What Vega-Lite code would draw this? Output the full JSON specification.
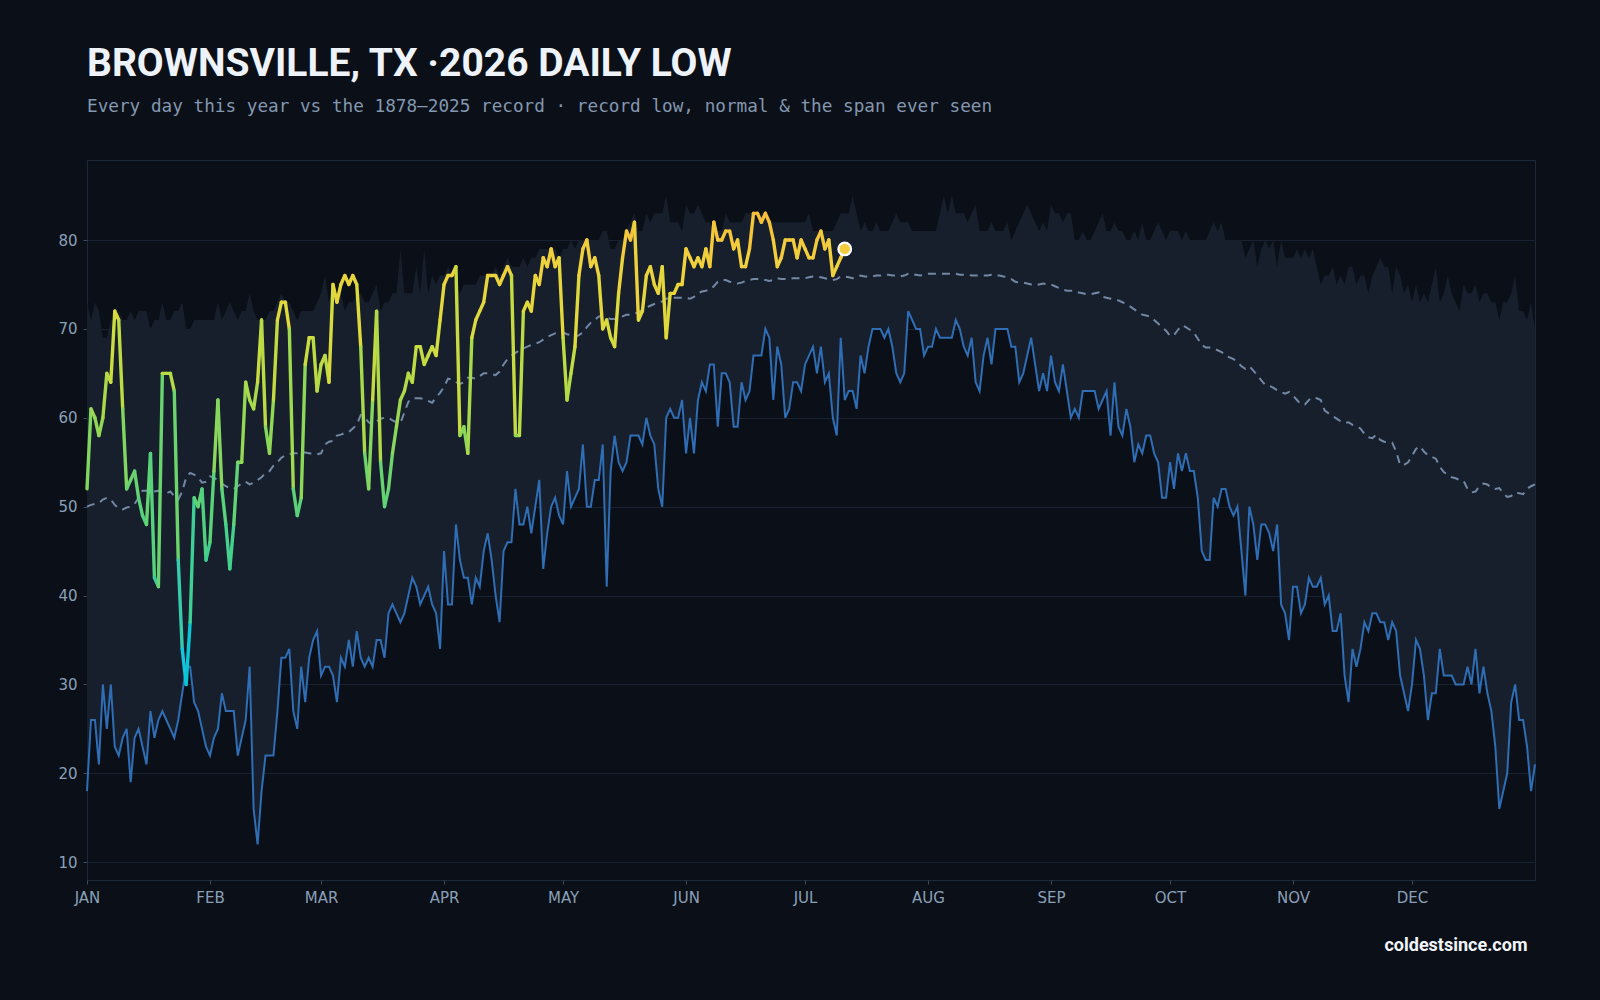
{
  "$schema": "https://vega.github.io/schema/vega-lite/v6.json",
  "width": 1448,
  "height": 720,
  "autosize": {"type": "none"},
  "padding": {"left": 87, "top": 160, "right": 65, "bottom": 120},
  "background": "#0b0f17",
  "title": {
    "text": "BROWNSVILLE, TX ·2026 DAILY LOW",
    "subtitle": "Every day this year vs the 1878–2025 record · record low, normal & the span ever seen",
    "anchor": "start",
    "frame": "group",
    "offset": 44,
    "font": "Roboto",
    "fontSize": 39,
    "fontWeight": 700,
    "color": "#eef3fa",
    "subtitleFont": "DejaVu Sans Mono",
    "subtitleFontSize": 17.7,
    "subtitleColor": "#8398b1",
    "subtitlePadding": 14
  },
  "config": {
    "view": {"stroke": "#1d2939", "strokeWidth": 1},
    "axis": {
      "domain": false,
      "labelFont": "DejaVu Sans",
      "labelFontSize": 15,
      "labelColor": "#8aa0b8",
      "tickColor": "#3b4b60",
      "tickSize": 4,
      "gridColor": "#182231",
      "gridWidth": 1
    }
  },
  "datasets": {
    "clim": [
      {"day":0,"lo":18,"hi":73,"n":50.0},{"day":1,"lo":26,"hi":71,"n":50.2},{"day":2,"lo":26,"hi":73,"n":50.3},{"day":3,"lo":21,"hi":72,"n":50.4},{"day":4,"lo":30,"hi":69,"n":50.8},{"day":5,"lo":25,"hi":69,"n":51.0},{"day":6,"lo":30,"hi":71,"n":50.8},{"day":7,"lo":23,"hi":71,"n":50.2},{"day":8,"lo":22,"hi":72,"n":49.8},{"day":9,"lo":24,"hi":71,"n":49.7},
      {"day":10,"lo":25,"hi":71,"n":49.9},{"day":11,"lo":19,"hi":72,"n":50.0},{"day":12,"lo":24,"hi":71,"n":50.3},{"day":13,"lo":25,"hi":72,"n":51.0},{"day":14,"lo":23,"hi":72,"n":51.8},{"day":15,"lo":21,"hi":72,"n":51.8},{"day":16,"lo":27,"hi":70,"n":51.5},{"day":17,"lo":24,"hi":71,"n":51.7},{"day":18,"lo":26,"hi":71,"n":51.8},{"day":19,"lo":27,"hi":73,"n":51.6},
      {"day":20,"lo":26,"hi":71,"n":51.5},{"day":21,"lo":25,"hi":71,"n":51.7},{"day":22,"lo":24,"hi":72,"n":51.2},{"day":23,"lo":26,"hi":72,"n":50.8},{"day":24,"lo":29,"hi":73,"n":51.7},{"day":25,"lo":32,"hi":70,"n":53.3},{"day":26,"lo":32,"hi":70,"n":53.8},{"day":27,"lo":28,"hi":71,"n":53.6},{"day":28,"lo":27,"hi":71,"n":53.3},{"day":29,"lo":25,"hi":71,"n":52.7},
      {"day":30,"lo":23,"hi":71,"n":52.8},{"day":31,"lo":22,"hi":71,"n":53.4},{"day":32,"lo":24,"hi":71,"n":53.3},{"day":33,"lo":25,"hi":73,"n":52.9},{"day":34,"lo":29,"hi":71,"n":52.6},{"day":35,"lo":27,"hi":72,"n":52.3},{"day":36,"lo":27,"hi":73,"n":52.1},{"day":37,"lo":27,"hi":72,"n":52.0},{"day":38,"lo":22,"hi":71,"n":52.3},{"day":39,"lo":24,"hi":72,"n":52.6},
      {"day":40,"lo":26,"hi":72,"n":52.8},{"day":41,"lo":32,"hi":74,"n":52.5},{"day":42,"lo":16,"hi":72,"n":52.7},{"day":43,"lo":12,"hi":71,"n":53.0},{"day":44,"lo":18,"hi":71,"n":53.3},{"day":45,"lo":22,"hi":71,"n":53.8},{"day":46,"lo":22,"hi":72,"n":54.0},{"day":47,"lo":22,"hi":72,"n":54.6},{"day":48,"lo":27,"hi":73,"n":55.0},{"day":49,"lo":33,"hi":74,"n":55.5},
      {"day":50,"lo":33,"hi":73,"n":55.8},{"day":51,"lo":34,"hi":73,"n":55.9},{"day":52,"lo":27,"hi":72,"n":56.0},{"day":53,"lo":25,"hi":71,"n":56.0},{"day":54,"lo":32,"hi":72,"n":56.1},{"day":55,"lo":28,"hi":72,"n":56.1},{"day":56,"lo":33,"hi":72,"n":56.0},{"day":57,"lo":35,"hi":72,"n":55.9},{"day":58,"lo":36,"hi":73,"n":55.9},{"day":59,"lo":31,"hi":74,"n":56.0},
      {"day":60,"lo":32,"hi":76,"n":57.0},{"day":61,"lo":32,"hi":73,"n":57.3},{"day":62,"lo":31,"hi":75,"n":57.4},{"day":63,"lo":28,"hi":74,"n":58.0},{"day":64,"lo":33,"hi":74,"n":58.1},{"day":65,"lo":32,"hi":72,"n":58.3},{"day":66,"lo":35,"hi":73,"n":58.4},{"day":67,"lo":32,"hi":73,"n":58.8},{"day":68,"lo":36,"hi":74,"n":59.2},{"day":69,"lo":33,"hi":74,"n":60.3},
      {"day":70,"lo":32,"hi":73,"n":60.0},{"day":71,"lo":33,"hi":73,"n":59.5},{"day":72,"lo":32,"hi":74,"n":59.2},{"day":73,"lo":35,"hi":75,"n":59.6},{"day":74,"lo":35,"hi":72,"n":59.9},{"day":75,"lo":33,"hi":73,"n":60.0},{"day":76,"lo":38,"hi":73,"n":60.0},{"day":77,"lo":39,"hi":74,"n":59.7},{"day":78,"lo":38,"hi":74,"n":59.5},{"day":79,"lo":37,"hi":79,"n":59.4},
      {"day":80,"lo":38,"hi":74,"n":60.6},{"day":81,"lo":40,"hi":74,"n":61.8},{"day":82,"lo":42,"hi":74,"n":62.2},{"day":83,"lo":41,"hi":77,"n":62.2},{"day":84,"lo":39,"hi":74,"n":62.2},{"day":85,"lo":40,"hi":79,"n":62.1},{"day":86,"lo":41,"hi":74,"n":61.9},{"day":87,"lo":39,"hi":76,"n":61.7},{"day":88,"lo":38,"hi":75,"n":62.3},{"day":89,"lo":34,"hi":76,"n":62.8},
      {"day":90,"lo":45,"hi":76,"n":63.5},{"day":91,"lo":39,"hi":77,"n":64.4},{"day":92,"lo":39,"hi":76,"n":64.3},{"day":93,"lo":48,"hi":75,"n":64.0},{"day":94,"lo":44,"hi":74,"n":63.8},{"day":95,"lo":42,"hi":75,"n":64.0},{"day":96,"lo":42,"hi":75,"n":64.5},{"day":97,"lo":39,"hi":75,"n":64.5},{"day":98,"lo":42,"hi":75,"n":64.4},{"day":99,"lo":41,"hi":76,"n":64.7},
      {"day":100,"lo":45,"hi":76,"n":65.0},{"day":101,"lo":47,"hi":76,"n":65.0},{"day":102,"lo":44,"hi":76,"n":64.9},{"day":103,"lo":40,"hi":77,"n":64.8},{"day":104,"lo":37,"hi":76,"n":65.2},{"day":105,"lo":45,"hi":77,"n":66.0},{"day":106,"lo":46,"hi":78,"n":66.6},{"day":107,"lo":46,"hi":77,"n":67.0},{"day":108,"lo":52,"hi":77,"n":67.3},{"day":109,"lo":48,"hi":77,"n":67.6},
      {"day":110,"lo":48,"hi":78,"n":67.8},{"day":111,"lo":50,"hi":77,"n":68.0},{"day":112,"lo":47,"hi":78,"n":68.2},{"day":113,"lo":50,"hi":78,"n":68.3},{"day":114,"lo":53,"hi":79,"n":68.5},{"day":115,"lo":43,"hi":79,"n":68.8},{"day":116,"lo":47,"hi":79,"n":69.1},{"day":117,"lo":50,"hi":79,"n":69.3},{"day":118,"lo":51,"hi":79,"n":69.5},{"day":119,"lo":49,"hi":78,"n":69.6},
      {"day":120,"lo":48,"hi":79,"n":69.6},{"day":121,"lo":54,"hi":79,"n":69.4},{"day":122,"lo":50,"hi":80,"n":69.3},{"day":123,"lo":51,"hi":79,"n":69.1},{"day":124,"lo":52,"hi":80,"n":69.3},{"day":125,"lo":57,"hi":80,"n":69.6},{"day":126,"lo":50,"hi":80,"n":70.2},{"day":127,"lo":50,"hi":80,"n":70.7},{"day":128,"lo":53,"hi":80,"n":71.0},{"day":129,"lo":53,"hi":80,"n":71.4},
      {"day":130,"lo":57,"hi":81,"n":71.4},{"day":131,"lo":41,"hi":81,"n":71.3},{"day":132,"lo":54,"hi":79,"n":71.1},{"day":133,"lo":58,"hi":79,"n":71.1},{"day":134,"lo":55,"hi":80,"n":71.2},{"day":135,"lo":54,"hi":80,"n":71.4},{"day":136,"lo":55,"hi":81,"n":71.6},{"day":137,"lo":58,"hi":82,"n":71.6},{"day":138,"lo":58,"hi":83,"n":71.7},{"day":139,"lo":58,"hi":81,"n":71.9},
      {"day":140,"lo":57,"hi":81,"n":72.1},{"day":141,"lo":60,"hi":83,"n":72.4},{"day":142,"lo":58,"hi":82,"n":72.6},{"day":143,"lo":57,"hi":83,"n":72.8},{"day":144,"lo":52,"hi":83,"n":72.9},{"day":145,"lo":50,"hi":83,"n":73.1},{"day":146,"lo":60,"hi":85,"n":73.4},{"day":147,"lo":61,"hi":82,"n":73.5},{"day":148,"lo":60,"hi":82,"n":73.5},{"day":149,"lo":60,"hi":82,"n":73.5},
      {"day":150,"lo":62,"hi":81,"n":73.5},{"day":151,"lo":56,"hi":84,"n":73.5},{"day":152,"lo":60,"hi":83,"n":73.4},{"day":153,"lo":56,"hi":83,"n":73.6},{"day":154,"lo":62,"hi":84,"n":74.0},{"day":155,"lo":64,"hi":83,"n":74.2},{"day":156,"lo":63,"hi":82,"n":74.3},{"day":157,"lo":66,"hi":82,"n":74.4},{"day":158,"lo":66,"hi":81,"n":74.8},{"day":159,"lo":59,"hi":81,"n":75.3},
      {"day":160,"lo":65,"hi":81,"n":75.5},{"day":161,"lo":65,"hi":83,"n":75.5},{"day":162,"lo":64,"hi":82,"n":75.3},{"day":163,"lo":59,"hi":82,"n":75.2},{"day":164,"lo":59,"hi":82,"n":75.1},{"day":165,"lo":64,"hi":82,"n":75.2},{"day":166,"lo":62,"hi":83,"n":75.4},{"day":167,"lo":63,"hi":83,"n":75.5},{"day":168,"lo":67,"hi":83,"n":75.6},{"day":169,"lo":67,"hi":82,"n":75.6},
      {"day":170,"lo":67,"hi":83,"n":75.5},{"day":171,"lo":70,"hi":83,"n":75.5},{"day":172,"lo":69,"hi":82,"n":75.4},{"day":173,"lo":62,"hi":82,"n":75.5},{"day":174,"lo":68,"hi":82,"n":75.7},{"day":175,"lo":66,"hi":82,"n":75.6},{"day":176,"lo":60,"hi":82,"n":75.6},{"day":177,"lo":61,"hi":82,"n":75.6},{"day":178,"lo":64,"hi":82,"n":75.7},{"day":179,"lo":64,"hi":82,"n":75.7},
      {"day":180,"lo":63,"hi":82,"n":75.7},{"day":181,"lo":66,"hi":82,"n":75.7},{"day":182,"lo":67,"hi":83,"n":75.8},{"day":183,"lo":68,"hi":81,"n":75.9},{"day":184,"lo":65,"hi":81,"n":75.9},{"day":185,"lo":68,"hi":81,"n":75.8},{"day":186,"lo":64,"hi":81,"n":75.7},{"day":187,"lo":65,"hi":81,"n":75.6},{"day":188,"lo":60,"hi":81,"n":75.5},{"day":189,"lo":58,"hi":82,"n":75.6},
      {"day":190,"lo":69,"hi":83,"n":75.9},{"day":191,"lo":62,"hi":83,"n":75.9},{"day":192,"lo":63,"hi":83,"n":75.8},{"day":193,"lo":63,"hi":85,"n":75.7},{"day":194,"lo":61,"hi":83,"n":75.8},{"day":195,"lo":67,"hi":81,"n":76.0},{"day":196,"lo":65,"hi":82,"n":75.9},{"day":197,"lo":68,"hi":81,"n":75.9},{"day":198,"lo":70,"hi":81,"n":75.9},{"day":199,"lo":70,"hi":82,"n":76.0},
      {"day":200,"lo":70,"hi":81,"n":76.0},{"day":201,"lo":69,"hi":81,"n":76.1},{"day":202,"lo":70,"hi":81,"n":76.1},{"day":203,"lo":68,"hi":82,"n":76.0},{"day":204,"lo":65,"hi":83,"n":76.0},{"day":205,"lo":64,"hi":82,"n":75.9},{"day":206,"lo":65,"hi":82,"n":76.0},{"day":207,"lo":72,"hi":82,"n":76.2},{"day":208,"lo":71,"hi":81,"n":76.1},{"day":209,"lo":70,"hi":81,"n":76.1},
      {"day":210,"lo":70,"hi":81,"n":76.0},{"day":211,"lo":67,"hi":81,"n":76.1},{"day":212,"lo":68,"hi":81,"n":76.2},{"day":213,"lo":68,"hi":81,"n":76.2},{"day":214,"lo":70,"hi":81,"n":76.2},{"day":215,"lo":69,"hi":83,"n":76.2},{"day":216,"lo":69,"hi":85,"n":76.2},{"day":217,"lo":69,"hi":83,"n":76.2},{"day":218,"lo":69,"hi":85,"n":76.2},{"day":219,"lo":71,"hi":83,"n":76.2},
      {"day":220,"lo":70,"hi":83,"n":76.1},{"day":221,"lo":68,"hi":83,"n":76.1},{"day":222,"lo":67,"hi":82,"n":76.1},{"day":223,"lo":69,"hi":83,"n":76.0},{"day":224,"lo":64,"hi":84,"n":76.0},{"day":225,"lo":63,"hi":81,"n":76.0},{"day":226,"lo":67,"hi":81,"n":76.0},{"day":227,"lo":69,"hi":81,"n":76.0},{"day":228,"lo":66,"hi":82,"n":76.1},{"day":229,"lo":70,"hi":81,"n":76.0},
      {"day":230,"lo":70,"hi":81,"n":76.0},{"day":231,"lo":70,"hi":81,"n":75.9},{"day":232,"lo":70,"hi":82,"n":75.8},{"day":233,"lo":68,"hi":80,"n":75.6},{"day":234,"lo":68,"hi":81,"n":75.3},{"day":235,"lo":64,"hi":82,"n":75.2},{"day":236,"lo":65,"hi":83,"n":75.2},{"day":237,"lo":67,"hi":84,"n":75.1},{"day":238,"lo":69,"hi":83,"n":75.0},{"day":239,"lo":66,"hi":82,"n":74.9},
      {"day":240,"lo":63,"hi":81,"n":75.0},{"day":241,"lo":65,"hi":82,"n":75.1},{"day":242,"lo":63,"hi":81,"n":75.0},{"day":243,"lo":67,"hi":84,"n":75.0},{"day":244,"lo":64,"hi":83,"n":74.8},{"day":245,"lo":63,"hi":83,"n":74.6},{"day":246,"lo":66,"hi":82,"n":74.4},{"day":247,"lo":63,"hi":83,"n":74.3},{"day":248,"lo":60,"hi":83,"n":74.3},{"day":249,"lo":61,"hi":80,"n":74.3},
      {"day":250,"lo":60,"hi":80,"n":74.1},{"day":251,"lo":63,"hi":81,"n":74.0},{"day":252,"lo":63,"hi":80,"n":73.9},{"day":253,"lo":63,"hi":80,"n":73.9},{"day":254,"lo":63,"hi":81,"n":74.0},{"day":255,"lo":61,"hi":82,"n":74.1},{"day":256,"lo":62,"hi":83,"n":73.6},{"day":257,"lo":63,"hi":81,"n":73.5},{"day":258,"lo":58,"hi":81,"n":73.4},{"day":259,"lo":64,"hi":82,"n":73.3},
      {"day":260,"lo":59,"hi":81,"n":73.2},{"day":261,"lo":58,"hi":81,"n":73.0},{"day":262,"lo":61,"hi":80,"n":72.8},{"day":263,"lo":59,"hi":80,"n":72.5},{"day":264,"lo":55,"hi":81,"n":72.2},{"day":265,"lo":57,"hi":80,"n":71.9},{"day":266,"lo":56,"hi":82,"n":71.6},{"day":267,"lo":58,"hi":80,"n":71.5},{"day":268,"lo":58,"hi":80,"n":71.4},{"day":269,"lo":56,"hi":81,"n":71.0},
      {"day":270,"lo":55,"hi":82,"n":70.6},{"day":271,"lo":51,"hi":81,"n":70.2},{"day":272,"lo":51,"hi":80,"n":69.8},{"day":273,"lo":55,"hi":81,"n":69.2},{"day":274,"lo":52,"hi":81,"n":69.3},{"day":275,"lo":56,"hi":81,"n":69.9},{"day":276,"lo":54,"hi":80,"n":70.4},{"day":277,"lo":56,"hi":81,"n":70.2},{"day":278,"lo":54,"hi":80,"n":69.9},{"day":279,"lo":54,"hi":80,"n":69.6},
      {"day":280,"lo":51,"hi":80,"n":68.9},{"day":281,"lo":45,"hi":80,"n":68.2},{"day":282,"lo":44,"hi":80,"n":67.9},{"day":283,"lo":44,"hi":81,"n":67.9},{"day":284,"lo":51,"hi":82,"n":67.8},{"day":285,"lo":50,"hi":81,"n":67.6},{"day":286,"lo":52,"hi":82,"n":67.4},{"day":287,"lo":52,"hi":80,"n":67.0},{"day":288,"lo":50,"hi":80,"n":66.8},{"day":289,"lo":49,"hi":80,"n":66.6},
      {"day":290,"lo":50,"hi":80,"n":66.3},{"day":291,"lo":45,"hi":80,"n":65.8},{"day":292,"lo":40,"hi":78,"n":65.5},{"day":293,"lo":50,"hi":79,"n":65.8},{"day":294,"lo":48,"hi":80,"n":65.3},{"day":295,"lo":44,"hi":77,"n":64.8},{"day":296,"lo":48,"hi":79,"n":64.2},{"day":297,"lo":48,"hi":80,"n":63.7},{"day":298,"lo":47,"hi":79,"n":63.6},{"day":299,"lo":45,"hi":80,"n":63.4},
      {"day":300,"lo":48,"hi":77,"n":63.1},{"day":301,"lo":39,"hi":80,"n":62.9},{"day":302,"lo":38,"hi":78,"n":62.7},{"day":303,"lo":35,"hi":78,"n":62.9},{"day":304,"lo":41,"hi":78,"n":62.5},{"day":305,"lo":41,"hi":79,"n":62.0},{"day":306,"lo":38,"hi":78,"n":61.5},{"day":307,"lo":39,"hi":79,"n":61.5},{"day":308,"lo":42,"hi":78,"n":62.0},{"day":309,"lo":41,"hi":79,"n":62.3},
      {"day":310,"lo":41,"hi":77,"n":62.2},{"day":311,"lo":42,"hi":75,"n":62.0},{"day":312,"lo":39,"hi":76,"n":60.8},{"day":313,"lo":40,"hi":76,"n":60.5},{"day":314,"lo":36,"hi":77,"n":60.2},{"day":315,"lo":36,"hi":75,"n":59.9},{"day":316,"lo":38,"hi":76,"n":59.6},{"day":317,"lo":31,"hi":75,"n":59.4},{"day":318,"lo":28,"hi":77,"n":59.5},{"day":319,"lo":34,"hi":77,"n":59.2},
      {"day":320,"lo":32,"hi":75,"n":59.0},{"day":321,"lo":34,"hi":76,"n":58.8},{"day":322,"lo":37,"hi":76,"n":58.2},{"day":323,"lo":36,"hi":74,"n":57.8},{"day":324,"lo":38,"hi":76,"n":57.7},{"day":325,"lo":38,"hi":77,"n":58.1},{"day":326,"lo":37,"hi":78,"n":57.5},{"day":327,"lo":37,"hi":77,"n":57.3},{"day":328,"lo":35,"hi":77,"n":57.2},{"day":329,"lo":37,"hi":74,"n":57.2},
      {"day":330,"lo":36,"hi":77,"n":56.2},{"day":331,"lo":31,"hi":76,"n":54.7},{"day":332,"lo":29,"hi":74,"n":54.7},{"day":333,"lo":27,"hi":75,"n":55.0},{"day":334,"lo":30,"hi":73,"n":55.7},{"day":335,"lo":35,"hi":75,"n":56.5},{"day":336,"lo":34,"hi":73,"n":56.8},{"day":337,"lo":31,"hi":74,"n":56.2},{"day":338,"lo":26,"hi":73,"n":55.8},{"day":339,"lo":29,"hi":75,"n":55.6},
      {"day":340,"lo":29,"hi":77,"n":55.4},{"day":341,"lo":34,"hi":73,"n":54.5},{"day":342,"lo":31,"hi":74,"n":53.9},{"day":343,"lo":31,"hi":76,"n":53.6},{"day":344,"lo":31,"hi":74,"n":53.3},{"day":345,"lo":30,"hi":73,"n":53.2},{"day":346,"lo":30,"hi":72,"n":53.0},{"day":347,"lo":30,"hi":75,"n":52.9},{"day":348,"lo":32,"hi":74,"n":52.0},{"day":349,"lo":30,"hi":74,"n":51.6},
      {"day":350,"lo":34,"hi":75,"n":51.7},{"day":351,"lo":29,"hi":73,"n":52.3},{"day":352,"lo":32,"hi":74,"n":52.6},{"day":353,"lo":29,"hi":74,"n":52.5},{"day":354,"lo":27,"hi":73,"n":52.1},{"day":355,"lo":23,"hi":73,"n":52.0},{"day":356,"lo":16,"hi":71,"n":52.1},{"day":357,"lo":18,"hi":73,"n":51.5},{"day":358,"lo":20,"hi":73,"n":51.1},{"day":359,"lo":28,"hi":74,"n":51.2},
      {"day":360,"lo":30,"hi":76,"n":51.6},{"day":361,"lo":26,"hi":72,"n":51.5},{"day":362,"lo":26,"hi":72,"n":51.4},{"day":363,"lo":23,"hi":71,"n":52.0},{"day":364,"lo":18,"hi":73,"n":52.3},{"day":365,"lo":21,"hi":70,"n":52.5}
    ],
    "y2026": [
      {"day":0,"t":52},{"day":1,"t":61},{"day":2,"t":60},{"day":3,"t":58},{"day":4,"t":60},{"day":5,"t":65},{"day":6,"t":64},{"day":7,"t":72},{"day":8,"t":71},{"day":9,"t":61},
      {"day":10,"t":52},{"day":11,"t":53},{"day":12,"t":54},{"day":13,"t":51},{"day":14,"t":49},{"day":15,"t":48},{"day":16,"t":56},{"day":17,"t":42},{"day":18,"t":41},{"day":19,"t":65},
      {"day":20,"t":65},{"day":21,"t":65},{"day":22,"t":63},{"day":23,"t":44},{"day":24,"t":34},{"day":25,"t":30},{"day":26,"t":37},{"day":27,"t":51},{"day":28,"t":50},{"day":29,"t":52},
      {"day":30,"t":44},{"day":31,"t":46},{"day":32,"t":54},{"day":33,"t":62},{"day":34,"t":52},{"day":35,"t":48},{"day":36,"t":43},{"day":37,"t":48},{"day":38,"t":55},{"day":39,"t":55},
      {"day":40,"t":64},{"day":41,"t":62},{"day":42,"t":61},{"day":43,"t":64},{"day":44,"t":71},{"day":45,"t":59},{"day":46,"t":56},{"day":47,"t":62},{"day":48,"t":71},{"day":49,"t":73},
      {"day":50,"t":73},{"day":51,"t":70},{"day":52,"t":52},{"day":53,"t":49},{"day":54,"t":51},{"day":55,"t":66},{"day":56,"t":69},{"day":57,"t":69},{"day":58,"t":63},{"day":59,"t":66},
      {"day":60,"t":67},{"day":61,"t":64},{"day":62,"t":75},{"day":63,"t":73},{"day":64,"t":75},{"day":65,"t":76},{"day":66,"t":75},{"day":67,"t":76},{"day":68,"t":75},{"day":69,"t":68},
      {"day":70,"t":56},{"day":71,"t":52},{"day":72,"t":62},{"day":73,"t":72},{"day":74,"t":55},{"day":75,"t":50},{"day":76,"t":52},{"day":77,"t":56},{"day":78,"t":59},{"day":79,"t":62},
      {"day":80,"t":63},{"day":81,"t":65},{"day":82,"t":64},{"day":83,"t":68},{"day":84,"t":68},{"day":85,"t":66},{"day":86,"t":67},{"day":87,"t":68},{"day":88,"t":67},{"day":89,"t":71},
      {"day":90,"t":75},{"day":91,"t":76},{"day":92,"t":76},{"day":93,"t":77},{"day":94,"t":58},{"day":95,"t":59},{"day":96,"t":56},{"day":97,"t":69},{"day":98,"t":71},{"day":99,"t":72},
      {"day":100,"t":73},{"day":101,"t":76},{"day":102,"t":76},{"day":103,"t":76},{"day":104,"t":75},{"day":105,"t":76},{"day":106,"t":77},{"day":107,"t":76},{"day":108,"t":58},{"day":109,"t":58},
      {"day":110,"t":72},{"day":111,"t":73},{"day":112,"t":72},{"day":113,"t":76},{"day":114,"t":75},{"day":115,"t":78},{"day":116,"t":77},{"day":117,"t":79},{"day":118,"t":77},{"day":119,"t":78},
      {"day":120,"t":69},{"day":121,"t":62},{"day":122,"t":65},{"day":123,"t":68},{"day":124,"t":76},{"day":125,"t":79},{"day":126,"t":80},{"day":127,"t":77},{"day":128,"t":78},{"day":129,"t":76},
      {"day":130,"t":70},{"day":131,"t":71},{"day":132,"t":69},{"day":133,"t":68},{"day":134,"t":74},{"day":135,"t":78},{"day":136,"t":81},{"day":137,"t":80},{"day":138,"t":82},{"day":139,"t":71},
      {"day":140,"t":72},{"day":141,"t":76},{"day":142,"t":77},{"day":143,"t":75},{"day":144,"t":74},{"day":145,"t":77},{"day":146,"t":69},{"day":147,"t":74},{"day":148,"t":74},{"day":149,"t":75},
      {"day":150,"t":75},{"day":151,"t":79},{"day":152,"t":78},{"day":153,"t":77},{"day":154,"t":78},{"day":155,"t":77},{"day":156,"t":79},{"day":157,"t":77},{"day":158,"t":82},{"day":159,"t":80},
      {"day":160,"t":80},{"day":161,"t":81},{"day":162,"t":81},{"day":163,"t":79},{"day":164,"t":80},{"day":165,"t":77},{"day":166,"t":77},{"day":167,"t":79},{"day":168,"t":83},{"day":169,"t":83},
      {"day":170,"t":82},{"day":171,"t":83},{"day":172,"t":82},{"day":173,"t":80},{"day":174,"t":77},{"day":175,"t":78},{"day":176,"t":80},{"day":177,"t":80},{"day":178,"t":80},{"day":179,"t":78},
      {"day":180,"t":80},{"day":181,"t":79},{"day":182,"t":78},{"day":183,"t":78},{"day":184,"t":80},{"day":185,"t":81},{"day":186,"t":79},{"day":187,"t":80},{"day":188,"t":76},{"day":189,"t":77},
      {"day":190,"t":78},{"day":191,"t":79}
    ]
  },
  "layer": [
    {
      "data": {"name": "clim"},
      "mark": {"type": "area", "color": "#161f2b", "opacity": 1},
      "encoding": {
        "x": {
          "field": "day",
          "type": "quantitative",
          "scale": {"domain": [0, 365], "nice": false, "zero": false},
          "axis": {
            "values": [0, 31, 59, 90, 120, 151, 181, 212, 243, 273, 304, 334],
            "labelExpr": "['JAN','FEB','MAR','APR','MAY','JUN','JUL','AUG','SEP','OCT','NOV','DEC'][indexof([0,31,59,90,120,151,181,212,243,273,304,334], datum.value)]",
            "grid": false,
            "labelFlush": false,
            "labelPadding": 6,
            "title": "coldestsince.com",
            "titleFont": "Roboto",
            "titleFontSize": 18,
            "titleFontWeight": 700,
            "titleColor": "#f2f5fa",
            "titleAlign": "right",
            "titleBaseline": "alphabetic",
            "titleX": 1440,
            "titleY": 70
          }
        },
        "y": {
          "field": "lo",
          "type": "quantitative",
          "scale": {"domain": [8, 89], "nice": false, "zero": false},
          "axis": {"values": [10, 20, 30, 40, 50, 60, 70, 80], "grid": true, "title": null, "labelPadding": 6}
        },
        "y2": {"field": "hi"}
      }
    },
    {
      "data": {"name": "clim"},
      "mark": {"type": "line", "color": "#2f6db4", "strokeWidth": 2},
      "encoding": {
        "x": {"field": "day", "type": "quantitative"},
        "y": {"field": "lo", "type": "quantitative"}
      }
    },
    {
      "data": {"name": "clim"},
      "mark": {"type": "line", "color": "#7388a4", "strokeWidth": 2, "strokeDash": [8, 6]},
      "encoding": {
        "x": {"field": "day", "type": "quantitative"},
        "y": {"field": "n", "type": "quantitative"}
      }
    },
    {
      "data": {"name": "y2026"},
      "transform": [
        {
          "window": [
            {"op": "lead", "field": "t", "as": "t2"},
            {"op": "lead", "field": "day", "as": "day2"},
            {"op": "mean", "field": "t", "as": "tm"}
          ],
          "sort": [{"field": "day", "order": "ascending"}],
          "frame": [0, 1]
        },
        {"filter": "datum.t2 != null"}
      ],
      "mark": {"type": "rule", "strokeWidth": 3.4, "strokeCap": "round"},
      "encoding": {
        "x": {"field": "day", "type": "quantitative"},
        "x2": {"field": "day2"},
        "y": {"field": "t", "type": "quantitative"},
        "y2": {"field": "t2"},
        "color": {
          "field": "tm",
          "type": "quantitative",
          "scale": {
            "domain": [30, 38, 46, 54, 62, 70, 78, 83],
            "range": ["#33c0e8", "#38cab0", "#46d08a", "#6fd46a", "#a6d94c", "#d9dc3f", "#f1d03e", "#f6bc3a"]
          },
          "legend": null
        }
      }
    },
    {
      "data": {"name": "y2026"},
      "transform": [{"filter": "datum.day == 191"}],
      "mark": {"type": "circle", "size": 160, "opacity": 1, "stroke": "#ffffff", "strokeWidth": 2.2},
      "encoding": {
        "x": {"field": "day", "type": "quantitative"},
        "y": {"field": "t", "type": "quantitative"},
        "color": {"field": "t", "type": "quantitative", "legend": null}
      }
    }
  ]
}
